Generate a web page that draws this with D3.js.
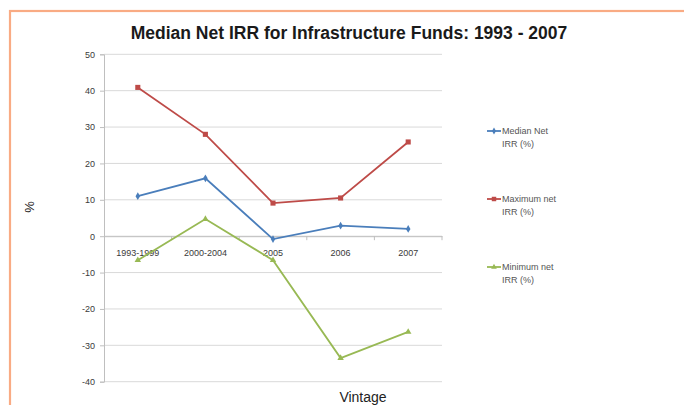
<!DOCTYPE html>
<html><head><meta charset="utf-8">
<script src="https://cdn.jsdelivr.net/npm/d3@7"></script>
<style>body{margin:0;background:#fff}svg{display:block}text{font-family:"Liberation Sans",Arial,sans-serif}</style>
</head><body><svg id="c" width="684" height="405"></svg>
<script>
const categories = ["1993-1999","2000-2004","2005","2006","2007"];
const medianNet = [11, 15.9, -0.8, 2.9, 2.0];
const maximumNet = [40.9, 28.0, 9.1, 10.5, 25.9];
const minimumNet = [-6.6, 4.7, -6.6, -33.5, -26.3];
const yTicks = [50,40,30,20,10,0,-10,-20,-30,-40];
const seriesNames = [["Median Net","IRR (%)"],["Maximum net","IRR (%)"],["Minimum net","IRR (%)"]];
const colors = ["#4a7ebb","#be4b48","#98b954"];
const shapes = [d3.symbolDiamond, d3.symbolSquare, d3.symbolTriangle];

const svg = d3.select("#c");
svg.append("rect").attr("x",10).attr("y",11).attr("width",690).attr("height",410)
  .attr("fill","none").attr("stroke","#f9ab84").attr("stroke-width",2.2);

const x = d3.scaleBand().domain(categories).range([104,442]);
const y = d3.scaleLinear().domain([-40,50]).range([381.7,54.3]);

// gridlines
svg.append("g").selectAll("line").data(yTicks).join("line")
  .attr("x1",104).attr("x2",442).attr("y1",d=>y(d)).attr("y2",d=>y(d))
  .attr("stroke","#d9d9d9").attr("stroke-width",1);

// y axis
const ya = svg.append("g").attr("transform","translate(104,0)")
  .call(d3.axisLeft(y).tickValues(yTicks).tickFormat(d=>String(d)).tickSize(4).tickPadding(5));
ya.select(".domain").attr("stroke","#bfbfbf");
ya.selectAll(".tick line").attr("stroke","#bfbfbf");
ya.selectAll("text").attr("fill","#3a3a3a").style("font-size","9px").style("font-family","Liberation Sans, Arial, sans-serif");

// x axis at 0
const xa = svg.append("g").attr("transform",`translate(0,${y(0)})`)
  .call(d3.axisBottom(x).tickSize(0).tickPadding(13));
xa.select(".domain").attr("stroke","#bfbfbf");
xa.selectAll("text").attr("fill","#3a3a3a").style("font-size","9px").style("font-family","Liberation Sans, Arial, sans-serif");
svg.append("g").selectAll("line").data(categories.slice(1).concat(["end"])).join("line")
  .attr("x1",(d,i)=>104+(i+1)*x.step()).attr("x2",(d,i)=>104+(i+1)*x.step())
  .attr("y1",y(0)).attr("y2",y(0)+4).attr("stroke","#bfbfbf");

const allSeries = [medianNet, maximumNet, minimumNet];
const line = d3.line().x((d,i)=>x(categories[i])+x.bandwidth()/2).y(d=>y(d));
allSeries.forEach((s,k)=>{
  svg.append("path").datum(s).attr("d",line).attr("fill","none")
    .attr("stroke",colors[k]).attr("stroke-width",1.8);
  svg.append("g").selectAll("path").data(s).join("path")
    .attr("d",d3.symbol().type(shapes[k]).size(k===1?26:18))
    .attr("transform",(d,i)=>`translate(${x(categories[i])+x.bandwidth()/2},${y(d)})`)
    .attr("fill",colors[k]);
});

// legend
const legY = [131,199,267];
seriesNames.forEach((n,k)=>{
  const g = svg.append("g").attr("transform",`translate(487,${legY[k]})`);
  g.append("line").attr("x1",0).attr("x2",14).attr("stroke",colors[k]).attr("stroke-width",1.8);
  g.append("path").attr("d",d3.symbol().type(shapes[k]).size(k===1?20:14)).attr("transform","translate(7,0)").attr("fill",colors[k]);
  g.append("text").attr("x",15).attr("y",3).attr("fill","#555").style("font-size","9px").text(n[0]);
  g.append("text").attr("x",15).attr("y",16).attr("fill","#555").style("font-size","9px").text(n[1]);
});

svg.append("text").attr("x",349).attr("y",39).attr("text-anchor","middle")
  .style("font-size","17.5px").style("font-weight","bold").attr("fill","#1a1a1a")
  .text("Median Net IRR for Infrastructure Funds: 1993 - 2007");
svg.append("text").attr("x",363).attr("y",402).attr("text-anchor","middle")
  .style("font-size","14px").attr("fill","#222").text("Vintage");
svg.append("text").attr("transform","translate(34,207) rotate(-90)").attr("text-anchor","middle")
  .style("font-size","13px").attr("fill","#222").text("%");
</script></body></html>
